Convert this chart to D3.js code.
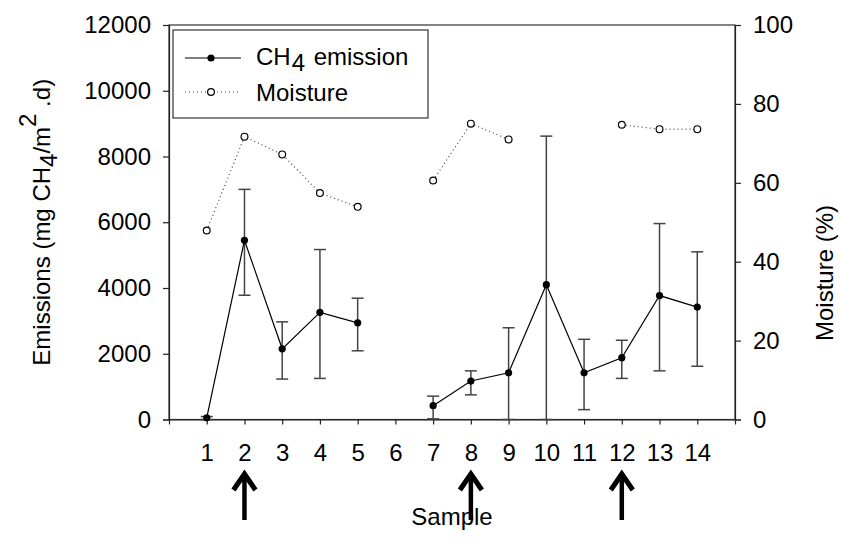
<!DOCTYPE html>
<html><head><meta charset="utf-8">
<script src="https://cdn.jsdelivr.net/npm/d3@7/dist/d3.min.js"></script>
<style>
html,body{margin:0;padding:0;background:#fff;}
svg text{font-family:"Liberation Sans",Arial,sans-serif;fill:#000;}
</style></head>
<body><svg id="c" width="841" height="541"></svg>
<script>
const samples = [1,2,3,4,5,6,7,8,9,10,11,12,13,14];
const emission = [50,5450,2150,3260,2940,null,420,1170,1420,4100,1420,1880,3770,3420];
const errTop = [90,7000,2970,5170,3690,null,710,1480,2790,8620,2440,2410,5960,5100];
const errBottom = [0,3780,1230,1250,2090,null,20,750,0,0,300,1250,1480,1620];
const moisture = [47.9,71.7,67.2,57.4,53.9,null,60.6,75.0,71.0,null,null,74.7,73.6,73.6];
const leftTicks = [0,2000,4000,6000,8000,10000,12000];
const rightTicks = [0,20,40,60,80,100];
const arrowSamples = [2,8,12];

const svg = d3.select("#c");
const L=169, R=735, T=25, B=419.5;
const x = d3.scaleLinear().domain([0,15]).range([L,R]);
const yL = d3.scaleLinear().domain([0,12000]).range([B,T]);
const yR = d3.scaleLinear().domain([0,100]).range([B,T]);
const FS = 24;

// frame
svg.append("rect").attr("x",L).attr("y",T).attr("width",R-L).attr("height",B-T)
  .attr("fill","none").attr("stroke","#333").attr("stroke-width",1.2);

// axes
const gl = svg.append("g").attr("transform",`translate(${L},0)`)
  .call(d3.axisLeft(yL).tickValues(leftTicks).tickFormat(d3.format("d")).tickSize(6).tickPadding(12));
const gr = svg.append("g").attr("transform",`translate(${R},0)`)
  .call(d3.axisRight(yR).tickValues(rightTicks).tickSize(6).tickPadding(12));
const gb = svg.append("g").attr("transform",`translate(0,${B})`)
  .call(d3.axisBottom(x).tickValues(samples).tickSize(5).tickPadding(19));
[gl,gr,gb].forEach(g=>{
  g.attr("font-size",FS).attr("font-family","Liberation Sans, Arial, sans-serif");
  g.select(".domain").attr("stroke","#222").attr("stroke-width",1.2);
  g.selectAll(".tick line").attr("stroke","#222").attr("stroke-width",1.2);
  g.selectAll(".tick text").attr("font-size",FS).attr("fill","#000");
});

// error bars
const eb = svg.append("g");
samples.forEach((s,i)=>{
  if(emission[i]==null) return;
  const cx = x(s);
  eb.append("line").attr("x1",cx).attr("x2",cx).attr("y1",yL(errTop[i])).attr("y2",yL(errBottom[i]))
    .attr("stroke","#444").attr("stroke-width",1.5);
  [errTop[i],errBottom[i]].forEach(v=>{
    eb.append("line").attr("x1",cx-6).attr("x2",cx+6).attr("y1",yL(v)).attr("y2",yL(v))
      .attr("stroke","#444").attr("stroke-width",1.5);
  });
});

// emission line
const emData = samples.map((s,i)=>({s,v:emission[i]}));
svg.append("path").datum(emData)
  .attr("d",d3.line().defined(d=>d.v!=null).x(d=>x(d.s)).y(d=>yL(d.v)))
  .attr("fill","none").attr("stroke","#000").attr("stroke-width",1.2);
svg.append("g").selectAll("circle").data(emData.filter(d=>d.v!=null)).join("circle")
  .attr("cx",d=>x(d.s)).attr("cy",d=>yL(d.v)).attr("r",3.6).attr("fill","#000");

// moisture line
const moData = samples.map((s,i)=>({s,v:moisture[i]}));
svg.append("path").datum(moData)
  .attr("d",d3.line().defined(d=>d.v!=null).x(d=>x(d.s)).y(d=>yR(d.v)))
  .attr("fill","none").attr("stroke","#444").attr("stroke-width",1.2).attr("stroke-dasharray","1,3");
svg.append("g").selectAll("circle").data(moData.filter(d=>d.v!=null)).join("circle")
  .attr("cx",d=>x(d.s)).attr("cy",d=>yR(d.v)).attr("r",3.4).attr("fill","#fff").attr("stroke","#000").attr("stroke-width",1.2);

// legend
const lg = svg.append("g");
lg.append("rect").attr("x",173).attr("y",30).attr("width",255).attr("height",88)
  .attr("fill","#fff").attr("stroke","#333").attr("stroke-width",1.2);
lg.append("line").attr("x1",185).attr("x2",241).attr("y1",58).attr("y2",58).attr("stroke","#000").attr("stroke-width",1.2);
lg.append("circle").attr("cx",211).attr("cy",58).attr("r",3.6).attr("fill","#000");
lg.append("line").attr("x1",185).attr("x2",241).attr("y1",92).attr("y2",92).attr("stroke","#444").attr("stroke-width",1.2).attr("stroke-dasharray","1,3");
lg.append("circle").attr("cx",211).attr("cy",92).attr("r",3.4).attr("fill","#fff").attr("stroke","#000").attr("stroke-width",1.2);
const t1 = lg.append("text").attr("x",256).attr("y",65).attr("font-size",FS);
t1.append("tspan").text("CH");
t1.append("tspan").attr("dy",6).attr("dx",1).text("4");
t1.append("tspan").attr("dy",-6).attr("dx",2).text(" emission");
lg.append("text").attr("x",256).attr("y",101).attr("font-size",FS).text("Moisture");

// axis titles
const yt = svg.append("text").attr("transform",`translate(50,${(T+B)/2}) rotate(-90)`)
  .attr("text-anchor","middle").attr("font-size",FS);
yt.append("tspan").text("Emissions (mg CH");
yt.append("tspan").attr("dy",7).text("4");
yt.append("tspan").attr("dy",-7).text("/m");
yt.append("tspan").attr("dy",-14).text("2");
yt.append("tspan").attr("dy",14).text(" .d)");
svg.append("text").attr("transform",`translate(833,273) rotate(-90)`)
  .attr("text-anchor","middle").attr("font-size",FS).text("Moisture (%)");
svg.append("text").attr("x",(L+R)/2).attr("y",525).attr("text-anchor","middle").attr("font-size",FS).text("Sample");

// arrows
const ag = svg.append("g");
arrowSamples.forEach(s=>{
  const ax = x(s);
  ag.append("line").attr("x1",ax).attr("x2",ax).attr("y1",474).attr("y2",520).attr("stroke","#000").attr("stroke-width",4.5);
  ag.append("path").attr("d",`M${ax-11},${490} L${ax},${474} L${ax+11},${490}`)
    .attr("fill","none").attr("stroke","#000").attr("stroke-width",5).attr("stroke-linejoin","miter");
});
</script></body></html>
